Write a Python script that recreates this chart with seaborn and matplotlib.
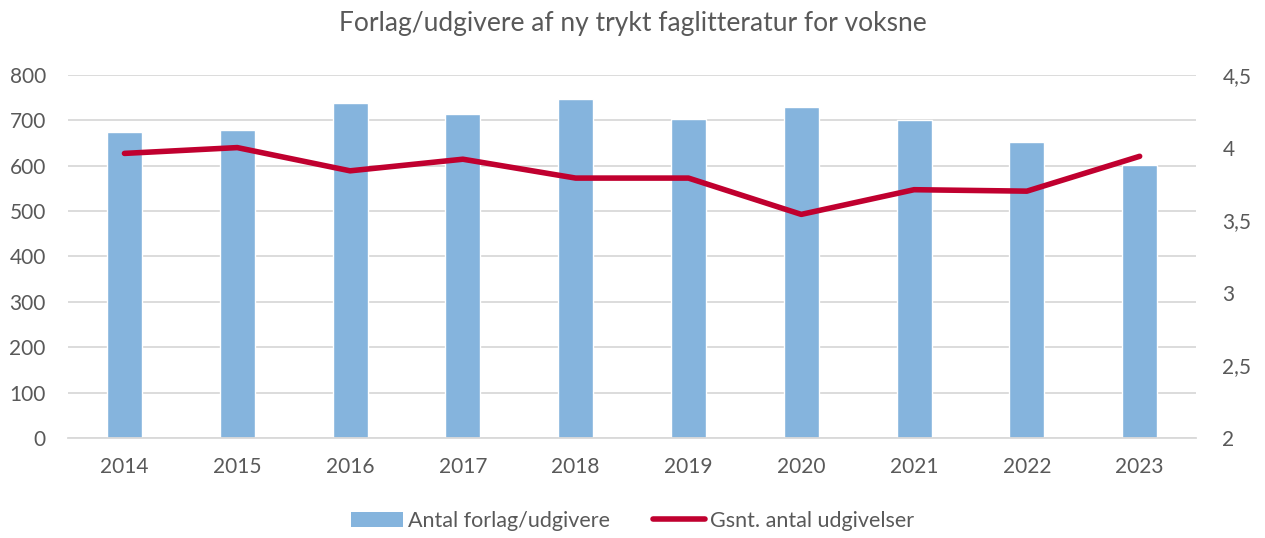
import numpy as np
import pandas as pd
import matplotlib
matplotlib.use("Agg")
import matplotlib.pyplot as plt
import seaborn as sns
from matplotlib.patches import Patch
from matplotlib.lines import Line2D
from matplotlib.ticker import FuncFormatter

years = ["2014", "2015", "2016", "2017", "2018", "2019", "2020", "2021", "2022", "2023"]
antal = [675, 679, 739, 714, 748, 703, 730, 701, 652, 602]
gsnt = [3.96, 4.00, 3.84, 3.92, 3.79, 3.79, 3.54, 3.71, 3.70, 3.94]

title = "Forlag/udgivere af ny trykt faglitteratur for voksne"
bar_label = "Antal forlag/udgivere"
line_label = "Gsnt. antal udgivelser"

sns.set_theme(style="white")
plt.rcParams["font.family"] = ["Lato", "DejaVu Sans"]

bar_color = "#85B4DD"
line_color = "#C0002F"
text_color = "#595959"
grid_color = "#D9D9D9"

df = pd.DataFrame({"year": years, "antal": antal, "gsnt": gsnt})

fig = plt.figure(figsize=(12.65, 5.38), dpi=100)
ax = fig.add_axes([0.0538, 0.1859, 0.8917, 0.6747])

sns.barplot(data=df, x="year", y="antal", color=bar_color, width=0.31,
            saturation=1, ax=ax, zorder=2)
ax.set_ylim(0, 800)
ax.set_yticks(np.arange(0, 801, 100))
ax.set_xlim(-0.5, len(years) - 0.5)
ax.yaxis.grid(True, color=grid_color, linewidth=1.3, zorder=0)
ax.set_axisbelow(True)
ax.set_xlabel("")
ax.set_ylabel("")
for s in ["top", "right", "left"]:
    ax.spines[s].set_visible(False)
ax.spines["bottom"].set_color(grid_color)
ax.spines["bottom"].set_linewidth(1.3)
ax.tick_params(axis="both", colors=text_color, labelsize=15, length=0)
ax.tick_params(axis="y", pad=16)
ax.tick_params(axis="x", pad=14)

ax2 = ax.twinx()
sns.lineplot(x=np.arange(len(years)), y=gsnt, color=line_color, linewidth=4,
             ax=ax2, solid_capstyle="round")
ax2.set_ylim(2, 4.5)
ax2.set_yticks([2, 2.5, 3, 3.5, 4, 4.5])
ax2.yaxis.set_major_formatter(FuncFormatter(lambda v, p: ("%g" % v).replace(".", ",")))
ax2.set_xlim(-0.5, len(years) - 0.5)
for s in ax2.spines.values():
    s.set_visible(False)
ax2.tick_params(axis="y", colors=text_color, labelsize=15, length=0, pad=19)
ax2.grid(False)

fig.text(0.5, 0.957, title, ha="center", va="center", fontsize=19, color=text_color)

handles = [Patch(facecolor=bar_color, edgecolor="none"),
           Line2D([0], [0], color=line_color, linewidth=4)]
fig.legend(handles, [bar_label, line_label], loc="center", bbox_to_anchor=(0.5, 0.032),
           ncol=2, frameon=False, fontsize=15.5, labelcolor=text_color,
           handlelength=2.4, handletextpad=0.25, columnspacing=2.0)

fig.savefig("out.png", dpi=100)
